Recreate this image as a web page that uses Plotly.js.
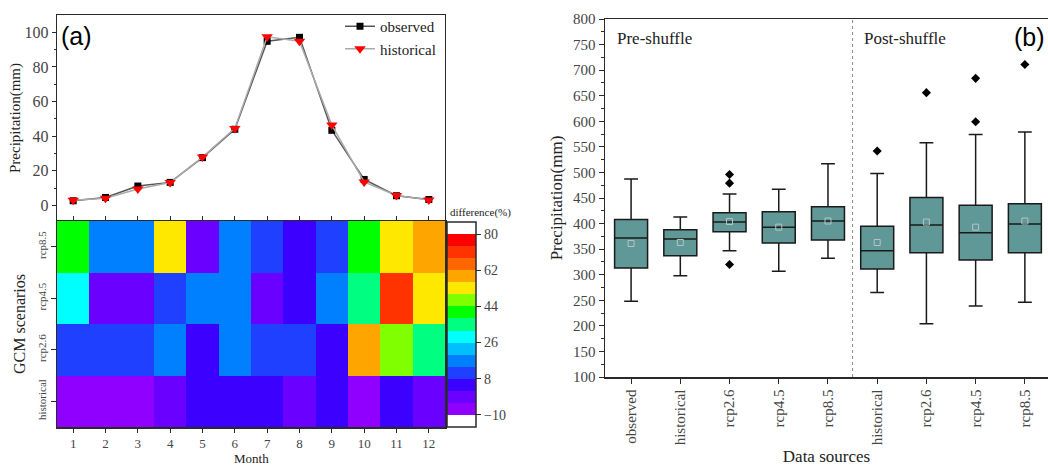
<!DOCTYPE html>
<html>
<head>
<meta charset="utf-8">
<script src="https://cdn.plot.ly/plotly-3.0.1.min.js"></script>
<style>html,body{margin:0;padding:0;background:#fff;}#chart{width:1048px;height:468px;}</style>
</head>
<body>
<div id="chart"></div>
<script>
// ---- Panel (a) top: monthly precipitation ----
const months = [1,2,3,4,5,6,7,8,9,10,11,12];
const observedPrecip   = [2.7, 4.6, 11.2, 13.3, 27.6, 44.0, 94.8, 97.1, 43.4, 15.0, 5.6, 3.4];
const historicalPrecip = [3.0, 4.2, 9.5, 13.2, 27.9, 44.5, 97.4, 94.9, 46.4, 13.6, 5.7, 3.2];

// ---- Panel (a) bottom: difference (%) heatmap ----
const scenarioLabels = ['historical', 'rcp2.6', 'rcp4.5', 'rcp8.5'];
const diffHistorical = [-7.2, -6.8, -7.0, -1.5, 4.6, 5.2, 4.8, -1.2, 5.1, -6.5, 4.4, -0.8];
const diffRcp26      = [10.8, 11.2, 11.0, 17.3, 4.9, 17.1, 11.4, 10.6, 5.3, 59.2, 47.0, 35.1];
const diffRcp45      = [29.0, -1.1, -0.9, 11.3, 16.8, 17.2, -1.3, 5.0, 17.0, 34.8, 70.6, 53.2];
const diffRcp85      = [40.9, 16.9, 17.2, 53.1, -0.7, 16.6, 10.9, 4.7, 11.2, 41.2, 52.8, 58.9];
const colorbarTicks  = [-10, 8, 26, 44, 62, 80];

// ---- Panel (b): annual precipitation box statistics ----
const sourceLabels = ['observed','historical','rcp2.6','rcp4.5','rcp8.5','historical','rcp2.6','rcp4.5','rcp8.5'];
const lowerFence = [248, 298, 347, 307, 332, 265, 204, 239, 246];
const q1Vals     = [313, 337, 384, 362, 368, 311, 343, 329, 343];
const medianVals = [372, 370, 403, 393, 405, 347, 397, 382, 399];
const q3Vals     = [408, 388, 421, 423, 433, 395, 451, 436, 439];
const upperFence = [487, 413, 458, 467, 517, 498, 558, 574, 579];
const meanVals   = [361, 363, 404, 393, 405, 363, 403, 393, 405];
const outlierSource = [2, 2, 2, 5, 6, 7, 7, 8];
const outlierVals   = [496, 479, 320, 542, 656, 684, 599, 711];

const serif = 'Liberation Serif, Times New Roman, serif';
const sans = 'Liberation Sans, Arial, sans-serif';
const tickCol = '#444';
const lineCol = '#2a2a2a';

// discrete colour bands of 6 units between -16 and 86
const bandColors = ['#ffffff','#9000ff','#6a00ff','#3c00ff','#2040ff','#0080ff','#00bfff','#00ffff',
  '#00ff80','#00ff00','#80ff00','#ffe800','#ffa500','#ff6600','#ff3300','#ff0000','#ffffff'];
const colorscale = [];
bandColors.forEach((c, i) => {
  colorscale.push([i / bandColors.length, c]);
  colorscale.push([(i + 1) / bandColors.length, c]);
});

const W = 1048, H = 468;
const px = v => v / W;
const py = v => 1 - v / H;

const traces = [
  {
    type: 'scatter', mode: 'lines+markers', name: 'observed',
    x: months, y: observedPrecip, xaxis: 'x', yaxis: 'y',
    line: {color: '#555', width: 1.5},
    marker: {symbol: 'square', size: 7, color: '#000'}
  },
  {
    type: 'scatter', mode: 'lines+markers', name: 'historical',
    x: months, y: historicalPrecip, xaxis: 'x', yaxis: 'y',
    line: {color: '#aaa', width: 1.5},
    marker: {symbol: 'triangle-down', size: 10, color: '#ff0000'}
  },
  {
    type: 'heatmap', x: months, y: [0, 1, 2, 3],
    z: [diffHistorical, diffRcp26, diffRcp45, diffRcp85],
    xaxis: 'x2', yaxis: 'y2', zmin: -16, zmax: 86, colorscale: colorscale,
    showlegend: false, hoverinfo: 'none',
    colorbar: {
      x: px(447), xanchor: 'left', xpad: 0, y: py(222), yanchor: 'top', ypad: 0,
      thickness: 29, len: 205, lenmode: 'pixels',
      outlinewidth: 1.5, outlinecolor: lineCol,
      tickvals: colorbarTicks, ticks: 'outside', ticklen: 5, tickcolor: lineCol,
      tickfont: {family: serif, size: 14, color: tickCol},
      title: {text: ''}
    }
  },
  {
    type: 'box', x: sourceLabels.map((_, i) => i), xaxis: 'x3', yaxis: 'y3',
    q1: q1Vals, median: medianVals, q3: q3Vals,
    lowerfence: lowerFence, upperfence: upperFence,
    width: 0.67, whiskerwidth: 0.42, boxpoints: false,
    fillcolor: '#5f9896', line: {color: '#1a1a1a', width: 1.5},
    showlegend: false, hoverinfo: 'none'
  },
  {
    type: 'scatter', mode: 'markers', x: sourceLabels.map((_, i) => i), y: meanVals,
    xaxis: 'x3', yaxis: 'y3', showlegend: false, hoverinfo: 'none',
    marker: {symbol: 'square-open', size: 6, color: '#b4c6c5', line: {width: 1}}
  },
  {
    type: 'scatter', mode: 'markers', x: outlierSource, y: outlierVals,
    xaxis: 'x3', yaxis: 'y3', showlegend: false, hoverinfo: 'none',
    marker: {symbol: 'diamond', size: 7, color: '#000'}
  }
];

const layout = {
  width: W, height: H,
  margin: {l: 0, r: 0, t: 0, b: 0},
  paper_bgcolor: '#fff', plot_bgcolor: '#fff',
  font: {family: serif, color: tickCol},
  showlegend: true,
  legend: {
    x: px(340), y: py(10), xanchor: 'left', yanchor: 'top',
    bgcolor: 'rgba(0,0,0,0)', font: {family: serif, size: 15, color: '#222'},
    tracegroupgap: 0, itemwidth: 30
  },
  xaxis: {
    domain: [px(57), px(445)], anchor: 'y', range: [0.5, 12.5],
    tickvals: months, showticklabels: false, ticks: 'inside', ticklen: 5, tickcolor: lineCol,
    showline: true, mirror: true, linecolor: lineCol, linewidth: 1.3,
    showgrid: false, zeroline: false
  },
  yaxis: {
    domain: [py(221), py(15)], anchor: 'x', range: [-9, 110],
    tickvals: [0, 20, 40, 60, 80, 100], ticks: 'outside', ticklen: 4, tickcolor: lineCol,
    minor: {tickvals: [10, 30, 50, 70, 90], ticks: 'outside', ticklen: 2, tickcolor: lineCol, showgrid: false},
    tickfont: {family: serif, size: 16, color: tickCol},
    showline: true, mirror: true, linecolor: lineCol, linewidth: 1.3,
    showgrid: false, zeroline: false,
    title: {text: 'Precipitation(mm)', font: {family: serif, size: 15, color: '#222'}, standoff: 0}
  },
  xaxis2: {
    domain: [px(57), px(445)], anchor: 'y2', range: [0.5, 12.5],
    tickvals: months, ticks: 'outside', ticklen: 4, tickcolor: lineCol,
    tickfont: {family: serif, size: 13, color: tickCol},
    showline: true, mirror: true, linecolor: lineCol, linewidth: 1.5,
    showgrid: false, zeroline: false
  },
  yaxis2: {
    domain: [py(427), py(221)], anchor: 'x2', range: [-0.5, 3.5],
    tickvals: [0, 1, 2, 3], ticktext: scenarioLabels, tickangle: -90,
    ticks: 'outside', ticklen: 5, tickcolor: lineCol,
    tickfont: {family: serif, size: 11, color: tickCol},
    showline: true, mirror: true, linecolor: lineCol, linewidth: 1.5,
    showgrid: false, zeroline: false,
    title: {text: 'GCM scenarios', font: {family: serif, size: 16, color: '#222'}, standoff: 6}
  },
  xaxis3: {
    domain: [px(605), 1], anchor: 'y3', range: [-0.53, 8.47],
    tickvals: sourceLabels.map((_, i) => i), ticktext: sourceLabels, tickangle: -90,
    ticks: 'outside', ticklen: 5, tickcolor: lineCol,
    tickfont: {family: serif, size: 15, color: tickCol},
    showline: true, mirror: true, linecolor: lineCol, linewidth: 1.5,
    showgrid: false, zeroline: false,
    title: {text: 'Data sources', font: {family: serif, size: 17, color: '#222'}, standoff: 6}
  },
  yaxis3: {
    domain: [py(377), py(19)], anchor: 'x3', range: [100, 800],
    dtick: 50, ticks: 'outside', ticklen: 5, tickcolor: lineCol,
    minor: {dtick: 25, ticks: 'outside', ticklen: 3, tickcolor: lineCol, showgrid: false},
    tickfont: {family: serif, size: 15, color: tickCol},
    showline: true, mirror: true, linecolor: lineCol, linewidth: 1.5,
    showgrid: false, zeroline: false,
    title: {text: 'Precipitation(mm)', font: {family: serif, size: 17, color: '#222'}, standoff: 6}
  },
  shapes: [
    {type: 'line', xref: 'x3', yref: 'y3 domain', x0: 4.5, x1: 4.5, y0: 0, y1: 1,
     line: {color: '#888', width: 1, dash: 'dot'}}
  ],
  annotations: [
    {text: '(a)', xref: 'paper', yref: 'paper', x: px(59), y: py(36), xanchor: 'left', yanchor: 'middle',
     showarrow: false, font: {family: sans, size: 25, color: '#000'}},
    {text: '(b)', xref: 'paper', yref: 'paper', x: px(1012), y: py(37), xanchor: 'left', yanchor: 'middle',
     showarrow: false, font: {family: sans, size: 25, color: '#000'}},
    {text: 'Pre-shuffle', xref: 'paper', yref: 'paper', x: px(615), y: py(38), xanchor: 'left', yanchor: 'middle',
     showarrow: false, font: {family: serif, size: 17, color: '#222'}},
    {text: 'Post-shuffle', xref: 'paper', yref: 'paper', x: px(862), y: py(38), xanchor: 'left', yanchor: 'middle',
     showarrow: false, font: {family: serif, size: 17, color: '#222'}},
    {text: 'difference(%)', xref: 'paper', yref: 'paper', x: px(448), y: py(213), xanchor: 'left', yanchor: 'middle',
     showarrow: false, font: {family: serif, size: 11, color: '#222'}},
    {text: 'Month', xref: 'paper', yref: 'paper', x: px(251), y: 0, xanchor: 'center', yanchor: 'bottom',
     showarrow: false, font: {family: serif, size: 13, color: '#222'}}
  ]
};

Plotly.newPlot('chart', traces, layout, {displayModeBar: false, staticPlot: true});
</script>
</body>
</html>
